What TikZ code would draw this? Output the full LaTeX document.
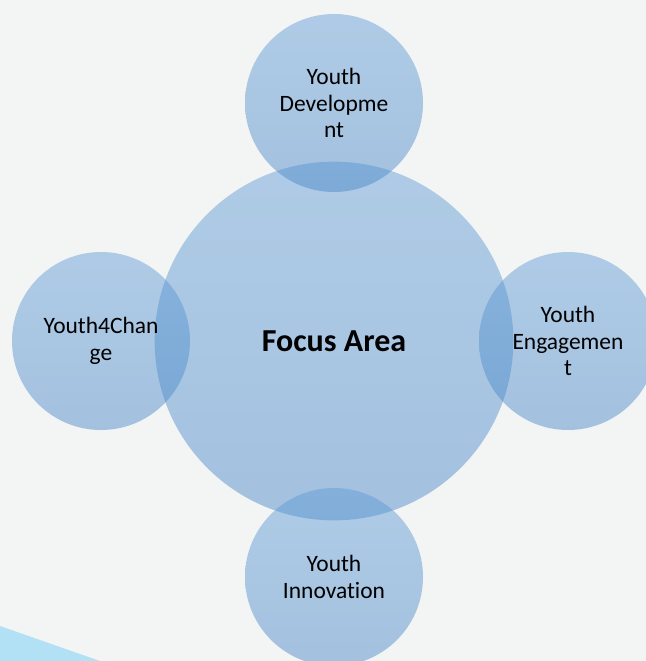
\documentclass[tikz,border=0pt]{standalone}
\usepackage{fontspec}
\setmainfont{Carlito}[Ligatures=NoCommon]
\usepackage{xcolor}
\usetikzlibrary{positioning}

\definecolor{pagebg}{HTML}{F3F4F4}
\definecolor{bubbletop}{HTML}{5C9AD6}
\definecolor{bubblebot}{HTML}{4384C6}
\definecolor{swoosh}{HTML}{B2E0F4}

\tikzset{
  bubble/.style={circle, inner sep=0pt, top color=bubbletop, bottom color=bubblebot,
    fill opacity=0.45, text opacity=1, align=center,
    font=\fontsize{17.6}{20}\selectfont},
}

\begin{document}
\begin{tikzpicture}[x=0.75pt, y=-0.75pt]
    % page and corner
    \fill[pagebg] (0,0) rectangle (646,661);
    \useasboundingbox (0,0) rectangle (646,661);
    \fill[swoosh] (0,626) -- (100,661) -- (0,661) -- cycle;

    % centre
    \node[bubble, minimum size=269pt, font=\fontsize{24}{28}\selectfont\bfseries] (focus) at (334,341) {Focus Area};

    % satellites
    \node[bubble, minimum size=133.5pt] (dev) at (334,103) {Youth\\Developme\\nt};
    \node[bubble, minimum size=133.5pt] (eng) at (568,341) {Youth\\Engagemen\\t};
    \node[bubble, minimum size=133.5pt] (inno) at (334,577) {Youth\\Innovation};
    \node[bubble, minimum size=133.5pt] (change) at (101,341) {Youth4Chan\\ge};
\end{tikzpicture}
\end{document}
